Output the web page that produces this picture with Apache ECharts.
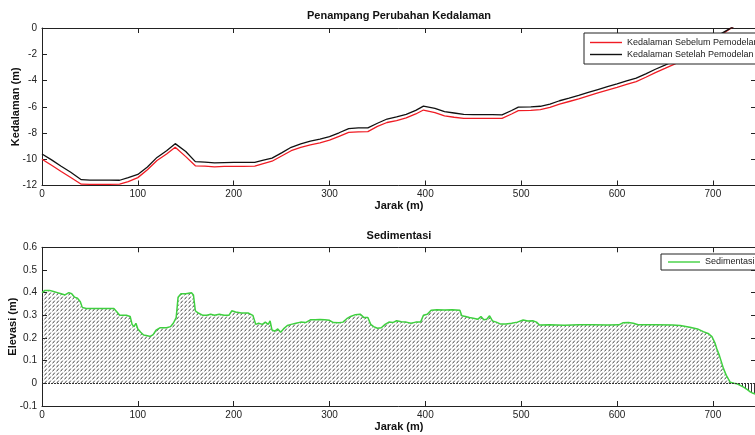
<!DOCTYPE html>
<html>
<head>
<meta charset="utf-8">
<script src="https://cdn.jsdelivr.net/npm/echarts@6/dist/echarts.min.js"></script>
<style>
  html, body { margin: 0; padding: 0; background: #fff; }
  #chart { width: 755px; height: 435px; }
</style>
</head>
<body>
<div id="chart"></div>
<script>
// Distance along the cross-section (m) for the depth profiles
const jarakKedalaman = [0, 10, 20, 30, 41, 50, 60, 70, 81, 90, 100, 110, 120, 130, 139, 150, 160, 170, 180, 190,
  200, 210, 222, 230, 240, 250, 260, 270, 280, 290, 300, 310, 320, 330, 340, 350, 360, 370, 380, 390,
  398, 410, 420, 430, 440, 450, 460, 470, 480, 490, 497, 510, 520, 530, 540, 550, 560, 570, 580, 590,
  600, 610, 620, 630, 640, 650, 660, 670, 680, 690, 700, 710, 720, 730, 740, 745];

// Depth before modelling (m)
const kedalamanSebelum = [-10.0, -10.46, -10.93, -11.39, -11.9, -11.92, -11.92, -11.92, -11.9, -11.7,
  -11.4, -10.8, -10.1, -9.6, -9.09, -9.8, -10.5, -10.52, -10.58, -10.55,
  -10.55, -10.55, -10.52, -10.35, -10.15, -9.75, -9.35, -9.1, -8.9, -8.75,
  -8.55, -8.25, -7.95, -7.92, -7.9, -7.5, -7.2, -7.05, -6.85, -6.55,
  -6.25, -6.45, -6.7, -6.8, -6.88, -6.88, -6.88, -6.88, -6.88, -6.55,
  -6.3, -6.28, -6.22, -6.05, -5.8, -5.6, -5.4, -5.17, -4.95, -4.73,
  -4.52, -4.3, -4.08, -3.75, -3.4, -3.08, -2.75, -2.38, -1.98, -1.52,
  -1.03, -0.45, 0.05, 0.46, 0.88, 1.08];

// Depth after modelling (m)
const kedalamanSetelah = [-9.6, -10.05, -10.535, -10.99, -11.56, -11.59, -11.59, -11.59, -11.6, -11.4,
  -11.16, -10.59, -9.86, -9.355, -8.81, -9.405, -10.18, -10.22, -10.28, -10.25,
  -10.235, -10.24, -10.24, -10.09, -9.915, -9.515, -9.09, -8.83, -8.62, -8.468,
  -8.272, -7.983, -7.66, -7.615, -7.61, -7.257, -6.935, -6.774, -6.58, -6.28,
  -5.95, -6.126, -6.377, -6.476, -6.585, -6.593, -6.595, -6.605, -6.618, -6.285,
  -6.028, -6.004, -5.963, -5.792, -5.543, -5.344, -5.142, -4.912, -4.692, -4.473,
  -4.262, -4.033, -3.82, -3.492, -3.142, -2.822, -2.494, -2.128, -1.736, -1.292,
  -0.84, -0.375, 0.05, 0.445, 0.84, 1.032];

// Distance (m) for the sedimentation profile
const jarakSedimentasi = [0, 3, 8, 12, 16, 20, 24, 28, 31, 34, 37, 40, 42, 46, 55, 65, 75, 78, 81, 88,
  92, 94, 96, 98, 100, 103, 106, 110, 113, 116, 119, 123, 130, 134, 137, 140, 142, 145, 150, 156,
  158, 160, 163, 168, 172, 176, 180, 185, 190, 195, 198, 202, 208, 215, 220, 223, 226, 230, 233, 236,
  238, 240, 243, 246, 249, 252, 256, 260, 265, 270, 275, 280, 285, 290, 295, 300, 304, 310, 314, 318,
  322, 327, 332, 336, 340, 343, 346, 350, 354, 358, 362, 366, 370, 375, 380, 385, 390, 395, 398, 402,
  406, 412, 420, 428, 436, 438, 442, 446, 450, 455, 458, 461, 464, 467, 470, 474, 478, 484, 490, 496,
  502, 507, 512, 516, 519, 530, 545, 560, 575, 590, 602, 606, 612, 617, 622, 640, 658, 666, 676, 684,
  690, 695, 699, 702, 704, 707, 711, 714, 718, 722, 725, 728, 732, 736, 739, 742, 745];

// Sedimentation thickness (m)
const sedimentasi = [0.40, 0.41, 0.41, 0.405, 0.40, 0.395, 0.39, 0.40, 0.395, 0.38, 0.375, 0.36, 0.335, 0.33, 0.33, 0.33, 0.33, 0.316, 0.30, 0.30,
  0.295, 0.26, 0.25, 0.265, 0.24, 0.225, 0.213, 0.21, 0.207, 0.215, 0.235, 0.245, 0.245, 0.25, 0.265, 0.29, 0.38, 0.395, 0.395, 0.40,
  0.39, 0.32, 0.31, 0.30, 0.30, 0.305, 0.30, 0.305, 0.30, 0.30, 0.32, 0.315, 0.31, 0.31, 0.30, 0.26, 0.265, 0.26, 0.27, 0.26,
  0.275, 0.235, 0.23, 0.24, 0.225, 0.24, 0.255, 0.26, 0.265, 0.27, 0.268, 0.28, 0.28, 0.282, 0.28, 0.278, 0.268, 0.267, 0.27, 0.285,
  0.295, 0.303, 0.305, 0.29, 0.29, 0.26, 0.25, 0.243, 0.245, 0.26, 0.27, 0.268, 0.276, 0.272, 0.27, 0.265, 0.27, 0.27, 0.30, 0.305,
  0.322, 0.325, 0.323, 0.324, 0.322, 0.298, 0.295, 0.29, 0.287, 0.283, 0.295, 0.28, 0.283, 0.298, 0.275, 0.27, 0.262, 0.262, 0.265, 0.27,
  0.279, 0.275, 0.276, 0.27, 0.257, 0.258, 0.256, 0.258, 0.258, 0.257, 0.258, 0.267, 0.268, 0.265, 0.258, 0.258, 0.257, 0.255, 0.247, 0.24,
  0.228, 0.22, 0.206, 0.18, 0.154, 0.12, 0.066, 0.035, 0.005, 0, -0.002, -0.008, -0.017, -0.028, -0.038, -0.044, -0.048];

const xTicks = [0, 100, 200, 300, 400, 500, 600, 700];
const FONT = '"Liberation Sans", Arial, Helvetica, sans-serif';
const AXIS_COLOR = '#222';

function pairs(xs, ys) { return xs.map((x, i) => [x, ys[i]]); }

// Hatch fills: short slanted dashes for deposition, vertical strokes for erosion
function makeDiagonalHatch() {
  const c = document.createElement('canvas');
  c.width = 4; c.height = 4;
  const g = c.getContext('2d');
  g.strokeStyle = '#444';
  g.lineWidth = 1;
  g.beginPath();
  g.moveTo(0.5, 3.4);
  g.lineTo(2.8, 0.6);
  g.stroke();
  return c;
}
function makeVerticalHatch() {
  const c = document.createElement('canvas');
  c.width = 3; c.height = 4;
  const g = c.getContext('2d');
  g.fillStyle = '#fff';
  g.fillRect(0, 0, 3, 4);
  g.fillStyle = '#333';
  g.fillRect(1, 0, 1, 4);
  return c;
}

const grids = [
  { left: 42, top: 28, width: 714, height: 157.5, containLabel: false, outerBoundsMode: 'none' },
  { left: 42, top: 247.3, width: 714, height: 158.7, containLabel: false, outerBoundsMode: 'none' }
];

function xAxes(gi) {
  const base = {
    gridIndex: gi, type: 'value', min: 0, max: 745, interval: 100,
    axisLine: { show: true, onZero: false, lineStyle: { color: AXIS_COLOR, width: 1 } },
    axisTick: { show: true, inside: true, length: 5, lineStyle: { color: AXIS_COLOR } },
    splitLine: { show: false }
  };
  return [
    Object.assign({}, base, {
      position: 'bottom',
      axisLabel: {
        margin: 4, fontSize: 10, color: '#222', fontFamily: FONT, showMaxLabel: false,
        formatter: v => (xTicks.indexOf(v) >= 0 ? String(v) : '')
      },
      name: 'Jarak (m)', nameLocation: 'middle', nameGap: 15, nameMoveOverlap: false,
      nameTextStyle: { fontWeight: 'bold', fontSize: 11, color: '#111', fontFamily: FONT }
    }),
    Object.assign({}, base, { position: 'top', axisLabel: { show: false } })
  ];
}

function yAxes(gi, min, max, interval, name, gap) {
  const base = {
    gridIndex: gi, type: 'value', min: min, max: max, interval: interval,
    axisLine: { show: true, onZero: false, lineStyle: { color: AXIS_COLOR, width: 1 } },
    axisTick: { show: true, inside: true, length: 5, lineStyle: { color: AXIS_COLOR } },
    splitLine: { show: false }
  };
  return [
    Object.assign({}, base, {
      position: 'left',
      axisLabel: { margin: 5, fontSize: 10, color: '#222', fontFamily: FONT },
      name: name, nameLocation: 'middle', nameGap: gap, nameMoveOverlap: false,
      nameTextStyle: { fontWeight: 'bold', fontSize: 11, color: '#111', fontFamily: FONT }
    }),
    Object.assign({}, base, { position: 'right', axisLabel: { show: false } })
  ];
}

const legendBase = {
  orient: 'vertical', itemWidth: 32, itemHeight: 1.4, itemGap: 3,
  icon: 'rect',
  borderColor: '#222', borderWidth: 1, borderRadius: 0, backgroundColor: '#fff',
  textStyle: { fontSize: 9, color: '#222', fontFamily: FONT },
  selectedMode: false, z: 10
};

const sedPairs = pairs(jarakSedimentasi, sedimentasi);
const erosiPairs = sedPairs.filter(p => p[0] >= 720 && p[1] <= 0);

const chart = echarts.init(document.getElementById('chart'), null, { renderer: 'canvas' });
chart.setOption({
  animation: false,
  backgroundColor: '#fff',
  grid: grids,
  xAxis: xAxes(0).concat(xAxes(1)),
  yAxis: yAxes(0, -12, 0, 2, 'Kedalaman (m)', 21).concat(yAxes(1, -0.1, 0.6, 0.1, 'Elevasi (m)', 24)),
  legend: [
    Object.assign({}, legendBase, {
      data: ['Kedalaman Sebelum Pemodelan', 'Kedalaman Setelah Pemodelan'],
      left: 584, top: 33, padding: [5, 6, 5, 6]
    }),
    Object.assign({}, legendBase, {
      data: ['Sedimentasi'], left: 661, top: 254, padding: [3.5, 6, 3.5, 7]
    })
  ],
  graphic: [
    { type: 'text', x: 399, y: 16, silent: true,
      style: { text: 'Penampang Perubahan Kedalaman', font: 'bold 11px ' + FONT, fill: '#111', textAlign: 'center', textVerticalAlign: 'middle' } },
    { type: 'text', x: 399, y: 236, silent: true,
      style: { text: 'Sedimentasi', font: 'bold 11px ' + FONT, fill: '#111', textAlign: 'center', textVerticalAlign: 'middle' } }
  ],
  series: [
    {
      name: 'Kedalaman Sebelum Pemodelan', type: 'line', xAxisIndex: 0, yAxisIndex: 0,
      data: pairs(jarakKedalaman, kedalamanSebelum), symbol: 'none', clip: true,
      lineStyle: { color: '#f01c24', width: 1.3 }, itemStyle: { color: '#f01c24' }, z: 3
    },
    {
      name: 'Kedalaman Setelah Pemodelan', type: 'line', xAxisIndex: 0, yAxisIndex: 0,
      data: pairs(jarakKedalaman, kedalamanSetelah), symbol: 'none', clip: true,
      lineStyle: { color: '#111', width: 1.3 }, itemStyle: { color: '#111' }, z: 3
    },
    {
      name: 'arsir-endapan', type: 'line', xAxisIndex: 2, yAxisIndex: 2,
      data: sedPairs, symbol: 'none', silent: true,
      lineStyle: { width: 0, opacity: 0 },
      areaStyle: { color: { image: makeDiagonalHatch(), repeat: 'repeat' }, opacity: 1 }, z: 1
    },
    {
      name: 'arsir-erosi', type: 'line', xAxisIndex: 2, yAxisIndex: 2,
      data: erosiPairs, symbol: 'none', silent: true,
      lineStyle: { width: 0, opacity: 0 },
      areaStyle: { color: { image: makeVerticalHatch(), repeat: 'repeat' }, opacity: 1 }, z: 1.5
    },
    {
      name: 'garis-nol', type: 'line', xAxisIndex: 2, yAxisIndex: 2, data: [], silent: true,
      markLine: {
        symbol: 'none', silent: true, label: { show: false },
        lineStyle: { color: '#333', type: [2, 1], width: 1 },
        data: [{ yAxis: 0 }]
      }, z: 2
    },
    {
      name: 'Sedimentasi', type: 'line', xAxisIndex: 2, yAxisIndex: 2,
      data: sedPairs, symbol: 'none',
      lineStyle: { color: '#3fd03f', width: 1.5 }, itemStyle: { color: '#3fd03f' }, z: 3
    }
  ]
});
</script>
</body>
</html>
